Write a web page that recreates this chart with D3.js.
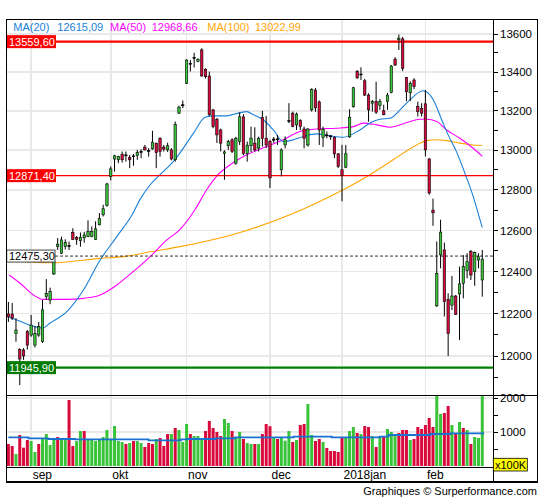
<!DOCTYPE html>
<html><head><meta charset="utf-8">
<script src="https://cdn.jsdelivr.net/npm/d3@7/dist/d3.min.js"></script>
<style>body{margin:0;background:#fff}svg{display:block}text{font-family:"Liberation Sans",Arial,sans-serif}</style>
</head><body><svg id="c" width="545" height="500"></svg>
<script>
// ---------------- data ----------------
const monthLabels = ["sep","okt","nov","dec","2018jan","feb"];
const monthStart  = [6, 27, 47, 69, 88, 110];

const openV = [12198,12197,12106,12031,12028,12114,12098,12051,12098,12067,12280,12264,12389,12521,12489,12521,12526,12591,12565,12550,
12564,12570,12570,12557,12628,12677,12722,12868,12955,12951,12979,12976,12963,12971,12972,12990,13015,12998,13006,13035,
13060,13015,13001,13001,12951,13188,13231,13342,13446,13477,13455,13516,13415,13380,13205,13157,13102,12982,13022,13052,
12934,13043,13169,12982,13022,13035,13010,13165,13060,13043,13050,13057,12901,13026,13145,13188,13128,13150,13107,13026,
13205,13307,13246,13065,13077,13072,13065,12981,12901,12914,13067,13221,13404,13386,13355,13281,13239,13247,13227,13200,
13247,13295,13468,13570,13574,13372,13293,13359,13222,13213,13236,12955,12700,12236,12481,12505,12267,12240,12283,12293,
12344,12405,12497,12400,12456,12360];
const highV = [12255,12250,12177,12036,12037,12122,12193,12140,12160,12264,12364,12323,12456,12563,12570,12557,12546,12611,12573,12590,
12593,12650,12620,12645,12686,12727,12836,12918,12976,12971,12993,12993,12976,12981,13001,13004,13026,13010,13098,13037,
13065,13026,13037,13010,13145,13226,13253,13467,13463,13501,13472,13525,13420,13403,13209,13163,13109,12999,13052,13060,
13067,13191,13183,13043,13119,13116,13068,13200,13174,13052,13066,13077,13009,13069,13239,13196,13191,13157,13119,13111,
13316,13318,13253,13119,13094,13077,13068,12985,13026,13026,13208,13324,13411,13425,13365,13290,13256,13350,13261,13231,
13293,13437,13478,13597,13585,13375,13352,13368,13247,13239,13307,12960,12757,12546,12653,12541,12296,12379,12288,12424,
12480,12489,12505,12497,12489,12505];
const lowV = [12160,12169,12067,11865,11982,12030,12090,12040,12090,12061,12264,12244,12384,12505,12485,12508,12505,12554,12530,12521,
12540,12567,12567,12554,12625,12669,12717,12848,12892,12934,12937,12942,12909,12921,12951,12959,12998,12967,13001,12909,
12967,12993,12991,12948,12942,13184,13214,13338,13403,13424,13452,13376,13367,13171,13111,13036,12993,12851,13001,12985,
12926,13026,12974,12942,12990,12993,12993,13018,13010,12810,13037,13026,12868,13009,13137,13116,13102,13102,13009,13018,
13196,13195,13026,13016,13060,13052,12959,12910,12744,12909,13062,13216,13365,13359,13276,13144,13196,13184,13205,13177,
13205,13290,13432,13516,13405,13250,13250,13311,13171,13171,12968,12776,12623,12232,12416,12186,12000,12216,12193,12075,
12272,12368,12360,12332,12416,12280];
const closeV = [12184,12178,12122,11986,12000,12051,12145,12106,12138,12217,12296,12304,12448,12533,12554,12541,12521,12557,12557,12567,
12578,12595,12595,12608,12658,12707,12830,12905,12971,12968,12951,12971,12951,12968,12987,12993,13001,12993,13040,12987,
12993,13005,13022,12955,13131,13219,13226,13463,13441,13473,13467,13380,13376,13180,13119,13077,13035,12991,13043,12993,
13060,13169,12982,13025,13060,13001,13060,13060,13026,12860,13056,13052,13001,13052,13150,13119,13183,13119,13060,13107,
13311,13215,13102,13106,13072,13068,12981,12918,12871.4,12981,13167,13319,13370,13390,13281,13205,13247,13193,13247,13180,
13281,13432,13437,13578,13420,13298,13341,13325,13196,13188,13001,12785,12687,12392,12592,12256,12106,12283,12196,12341,
12424,12448,12384,12492,12472,12460];

// volume in units of 100K
const volume = [647,588,353,912,539,765,735,412,647,804,941,618,765,853,765,824,1941,588,735,1029,
1029,794,794,735,784,853,1059,765,1176,735,706,647,676,735,735,676,559,676,647,794,
824,588,941,941,1118,1059,706,1235,941,882,882,824,1029,1324,1118,1000,882,1382,1265,1029,
853,1000,794,676,647,647,647,941,1235,1170,833,794,833,745,1029,706,765,1206,1235,1824,
912,735,794,706,529,441,441,412,853,853,1029,1147,971,941,1176,1147,882,559,882,882,
1088,1000,941,971,1059,1059,765,794,1147,1088,1206,1412,1147,2150,1529,1559,1765,1206,941,1294,
1118,1059,647,853,824,2100];
const volDir = "rrgrrrggrggggrggrrggrggggggggggrgrggrrrgrrrgrgggrgggrrrrrggrggrggrgrrrgrgggrgrrggrrgrrrrrgggrgrrgrgrgggrrrgrrrrrrggrrgrgrgrggg".split("");

// moving averages: [candle index, value]
const ma20 = [[0,12184],[3.1,12163],[6.1,12142],[9,12131],[11,12155],[15.4,12209],[19.8,12312],[24.2,12456],[28.6,12570],
[32.9,12686],[34.7,12752],[37.4,12826],[40,12876],[43.9,12951],[48.8,13085],[51.9,13167],[54,13174],[57.6,13174],
[60.6,13188],[62.9,13196],[64.6,13180],[67.2,13154],[69.9,13102],[72.5,13043],[75.2,13052],[77.8,13069],[81.3,13082],
[84.8,13072],[88.3,13065],[92.7,13102],[95.4,13137],[98,13157],[100.7,13162],[103.3,13205],[105.9,13256],[109.4,13303],
[112.1,13256],[114.3,13154],[116,13077],[118.3,12987],[120.4,12885],[122.6,12768],[124.4,12653],[125,12615.09]];
const ma50 = [[0.2,12384],[3.1,12344],[6.6,12288],[9.2,12267],[15.4,12267],[19.8,12272],[24.2,12288],[28.6,12336],[32.9,12400],
[37.4,12473],[41.8,12554],[45.3,12606],[49.2,12702],[52.3,12801],[54.9,12868],[58.5,12926],[62.9,12976],[68.1,13018],
[72.5,13052],[76.9,13094],[81.3,13107],[86.6,13111],[91,13119],[93.6,13137],[97.2,13128],[100.7,13116],[105.1,13140],
[108.6,13157],[110.3,13157],[113,13145],[115.6,13102],[119.1,13060],[122.6,13009],[125,12968.66]];
const ma100 = [[2.6,12451],[11,12443],[24.2,12464],[31.2,12475],[37.4,12496],[45.3,12521],[61.1,12590],[77.4,12702],
[84,12760],[88.3,12801],[95.4,12876],[101.5,12951],[107.7,13026],[110.3,13048],[113,13052],[115.6,13048],[119.1,13035],
[122.6,13026],[125,13022.99]];
const volMA = [[0,843],[5.3,814],[10.5,794],[17.6,784],[37,755],[45.5,784],[47,794],[54.5,814],[59.8,843],[75.2,863],
[85.3,843],[98,863],[100.3,912],[111.3,941],[116.6,961],[125.5,961]];

const priceGrid  = [12000,12200,12400,12600,12800,13000,13200,13400,13600];
const priceTicks = [11900,12000,12100,12200,12300,12400,12500,12600,12700,12800,12900,13000,13100,13200,13300,13400,13500,13600];
const volTicks   = [500,1000,1500,2000];
const volLabels  = [1000,2000];

const levels = [
  {v:13559.60, label:"13559,60", color:"#ff0000", box:"#ff0000", w:2.4},
  {v:12871.40, label:"12871,40", color:"#ff0000", box:"#ff0000", w:1.3},
  {v:11945.90, label:"11945,90", color:"#008000", box:"#007a00", w:2.4}
];
const lastPrice = {v:12475.30, label:"12475,30"};
const legend = [
  {t:"MA(20)", c:"#1a7fd8", x:13.3}, {t:"12615,09", c:"#1a7fd8", x:57.3},
  {t:"MA(50)", c:"#ff00ff", x:110},  {t:"12968,66", c:"#ff00ff", x:151.7},
  {t:"MA(100)", c:"#ffa500", x:207.3},{t:"13022,99", c:"#ffa500", x:255}
];

// ---------------- layout ----------------
const L = 6.7, T = 19.3, R = 493.3, FR = 537.5, PB = 395.3, VB = 467.3, FB = 482.3;
const GREEN = "#38c338", RED = "#d80a3c";
const N = closeV.length;

const svg = d3.select("#c");
const x = d3.scaleBand().domain(d3.range(N)).range([6.5, 6.5 + 3.791 * N]).padding(0);
const bw = x.bandwidth();
const xc = d3.scaleLinear().domain([0, N - 1]).range([x(0) + bw / 2, x(N - 1) + bw / 2]);
const y = d3.scaleLog().domain([12000, 13600]).range([356, 34]);
const yv = d3.scaleLinear().domain([0, 2000]).range([466, 398]);

const defs = svg.append("defs");
defs.append("clipPath").attr("id","cp").append("rect").attr("x",L).attr("y",T).attr("width",R-L).attr("height",PB-T);
defs.append("clipPath").attr("id","cv").append("rect").attr("x",L).attr("y",PB).attr("width",R-L).attr("height",VB-PB);

// grids
const g = svg.append("g").attr("shape-rendering","crispEdges");
g.selectAll(".hg").data(priceGrid).join("line")
  .attr("x1",L).attr("x2",R).attr("y1",d=>y(d)).attr("y2",d=>y(d))
  .attr("stroke","#e8e8e8").attr("stroke-width",1.5);
g.selectAll(".vg").data(volLabels).join("line")
  .attr("x1",L).attr("x2",R).attr("y1",d=>yv(d)).attr("y2",d=>yv(d))
  .attr("stroke","#e8e8e8").attr("stroke-width",1.5);
g.selectAll(".mg").data(monthStart).join("line")
  .attr("x1",d=>xc(d)).attr("x2",d=>xc(d)).attr("y1",T).attr("y2",VB)
  .attr("stroke","#e8e8e8").attr("stroke-width",1.5);

const pg = svg.append("g").attr("clip-path","url(#cp)");

// MA lines
const line = d3.line().x(d=>xc(d[0])).y(d=>y(d[1])).curve(d3.curveMonotoneX);
[[ma100,"#ffa500"],[ma50,"#ff00ff"],[ma20,"#1a7fd8"]].forEach(([d,c])=>{
  pg.append("path").datum(d).attr("d",line).attr("fill","none").attr("stroke",c).attr("stroke-width",1.1);
});

// level lines
pg.selectAll(".lv").data(levels).join("line")
  .attr("x1",L).attr("x2",R).attr("y1",d=>y(d.v)).attr("y2",d=>y(d.v))
  .attr("stroke",d=>d.color).attr("stroke-width",d=>d.w);
pg.append("line").attr("x1",55).attr("x2",R).attr("y1",y(lastPrice.v)).attr("y2",y(lastPrice.v))
  .attr("stroke","#333").attr("stroke-width",1).attr("stroke-dasharray","3,2");

// candles
const idx = d3.range(N);
pg.selectAll(".wk").data(idx).join("line")
  .attr("x1",i=>xc(i)).attr("x2",i=>xc(i))
  .attr("y1",i=>y(highV[i])).attr("y2",i=>y(lowV[i]))
  .attr("stroke","#000").attr("stroke-width",1);
pg.selectAll(".bd").data(idx).join("rect")
  .attr("x",i=>xc(i)-1.2).attr("width",2.4)
  .attr("y",i=>y(Math.max(openV[i],closeV[i])))
  .attr("height",i=>Math.max(0.9, Math.abs(y(openV[i])-y(closeV[i]))))
  .attr("fill",i=>Math.abs(y(openV[i])-y(closeV[i]))<1.5 ? "#000" : (closeV[i]>=openV[i]?GREEN:RED))
  .attr("stroke","#000").attr("stroke-width",0.6);

// level label boxes
const lb = svg.append("g");
levels.forEach(d=>{
  const yy = y(d.v);
  lb.append("rect").attr("x",L).attr("y",yy-6.5).attr("width",49.3).attr("height",13).attr("fill",d.box);
  lb.append("text").attr("x",9).attr("y",yy).attr("dy","0.36em").attr("fill","#fff").attr("font-size",11).text(d.label);
});
{
  const yy = y(lastPrice.v);
  lb.append("rect").attr("x",L).attr("y",yy-6).attr("width",48.3).attr("height",12).attr("fill","#fff").attr("stroke","#444").attr("stroke-width",1);
  lb.append("text").attr("x",9).attr("y",yy).attr("dy","0.36em").attr("fill","#000").attr("font-size",11).text(lastPrice.label);
}

// legend
svg.append("g").selectAll("text").data(legend).join("text")
  .attr("x",d=>d.x).attr("y",27).attr("dy","0.36em").attr("fill",d=>d.c).attr("font-size",11).text(d=>d.t);

// volume
const vg = svg.append("g").attr("clip-path","url(#cv)");
vg.selectAll(".vb").data(idx).join("rect")
  .attr("x",i=>xc(i)-1.5).attr("width",3)
  .attr("y",i=>yv(volume[i])).attr("height",i=>yv(0)-yv(volume[i]))
  .attr("fill",i=>volDir[i]==="g"?GREEN:RED);
vg.append("path").datum(volMA)
  .attr("d",d3.line().x(d=>xc(d[0])).y(d=>yv(d[1])).curve(d3.curveStepAfter))
  .attr("fill","none").attr("stroke","#1a72d0").attr("stroke-width",1.8);

// frames
const fr = svg.append("g").attr("shape-rendering","crispEdges").attr("stroke","#000").attr("fill","none");
fr.append("rect").attr("x",L).attr("y",T).attr("width",FR-L).attr("height",FB-T).attr("stroke-width",1.6);
fr.append("line").attr("x1",L).attr("x2",FR).attr("y1",PB).attr("y2",PB).attr("stroke-width",1.4);
fr.append("line").attr("x1",L).attr("x2",R).attr("y1",VB).attr("y2",VB).attr("stroke-width",1.4);
fr.append("line").attr("x1",R).attr("x2",R).attr("y1",T).attr("y2",FB).attr("stroke-width",1.2);

// price axis
const ax = svg.append("g");
ax.selectAll(".pt").data(priceTicks.filter(v=>y(v)>T && y(v)<PB)).join("line")
  .attr("x1",R).attr("x2",R+4.5).attr("y1",d=>y(d)).attr("y2",d=>y(d)).attr("stroke","#000").attr("shape-rendering","crispEdges");
ax.selectAll(".pl").data(priceGrid).join("text")
  .attr("x",500).attr("y",d=>y(d)).attr("dy","0.36em").attr("font-size",11.5).attr("fill","#000").text(d=>d);
ax.selectAll(".vt").data(volTicks).join("line")
  .attr("x1",R).attr("x2",R+4.5).attr("y1",d=>yv(d)).attr("y2",d=>yv(d)).attr("stroke","#000").attr("shape-rendering","crispEdges");
ax.selectAll(".vl").data(volLabels).join("text")
  .attr("x",500).attr("y",d=>yv(d)).attr("dy","0.36em").attr("font-size",11.5).attr("fill","#000").text(d=>d);
ax.append("rect").attr("x",R).attr("y",458.3).attr("width",34).attr("height",12.7).attr("fill","#ffff00").attr("stroke","#000").attr("stroke-width",0.8);
ax.append("text").attr("x",495).attr("y",464.8).attr("dy","0.36em").attr("font-size",11).attr("fill","#000").text("x100K");

// month labels
ax.selectAll(".ml").data(monthStart).join("text")
  .attr("x",d=>xc(d)+1.5).attr("y",474.8).attr("dy","0.36em").attr("font-size",12).attr("fill","#000")
  .text((d,i)=>monthLabels[i]);

// footer
svg.append("text").attr("x",537).attr("y",491.5).attr("dy","0.36em").attr("text-anchor","end")
  .attr("font-size",11).attr("fill","#000").text("Graphiques © Surperformance.com");
</script></body></html>
